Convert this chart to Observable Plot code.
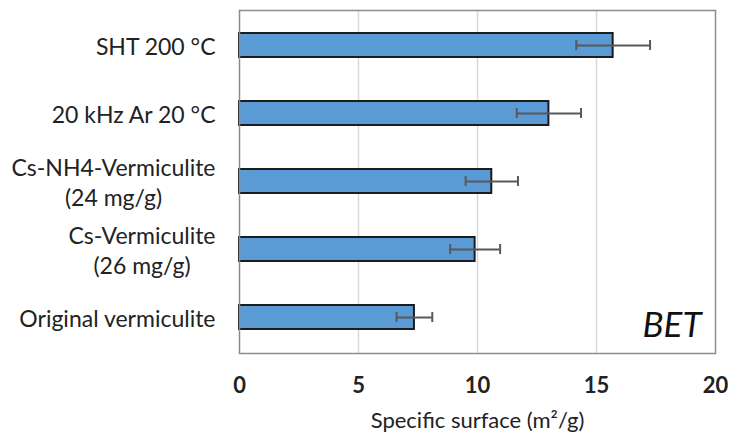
<!DOCTYPE html>
<html>
<head>
<meta charset="utf-8">
<script src="https://cdn.jsdelivr.net/npm/d3@7"></script>
<script src="https://cdn.jsdelivr.net/npm/@observablehq/plot@0.6"></script>
<style>
  html, body { margin: 0; padding: 0; background: #fff; }
  #chart svg { font-family: Lato, "Open Sans", sans-serif; }
</style>
</head>
<body>
<div id="chart"></div>
<script>
const categories = ["SHT 200 °C", "20 kHz Ar 20 °C", "Cs-NH4-Vermiculite\n(24 mg/g)", "Cs-Vermiculite\n(26 mg/g)", "Original vermiculite"];
const values = [15.7, 13.0, 10.6, 9.9, 7.35];
const errors = [1.55, 1.35, 1.1, 1.05, 0.75];
const xTicks = [0, 5, 10, 15, 20];
const xLabel = "Specific surface (m²/g)";
const annotation = ["BET"];

const data = categories.map((c, i) => ({cat: c, v: values[i], lo: values[i] - errors[i], hi: values[i] + errors[i]}));

const plot = Plot.plot({
  width: 730,
  height: 434,
  marginLeft: 239,
  marginRight: 15,
  marginTop: 10,
  marginBottom: 81,
  style: {fontFamily: "Lato, 'Open Sans', sans-serif", color: "#222", background: "#fff"},
  x: {domain: [0, 20]},
  y: {domain: categories, paddingInner: 0.64, paddingOuter: 0.32},
  marks: [
    Plot.gridX({ticks: [5, 10, 15], stroke: "#d9d9d9", strokeOpacity: 1, strokeWidth: 1.5}),
    Plot.barX(data, {x: "v", y: "cat", fill: "#5b9bd5", stroke: "#1c1c1c", strokeWidth: 2}),
    Plot.ruleY(data, {y: "cat", x1: "lo", x2: "hi", stroke: "#595959", strokeWidth: 2}),
    Plot.tickX(data, {x: "lo", y: "cat", stroke: "#595959", strokeWidth: 2, insetTop: 7, insetBottom: 7}),
    Plot.tickX(data, {x: "hi", y: "cat", stroke: "#595959", strokeWidth: 2, insetTop: 7, insetBottom: 7}),
    Plot.frame({stroke: "#8c8c8c", strokeWidth: 1.5}),
    Plot.axisY({tickSize: 0, tickPadding: 24, fontSize: 23, lineHeight: 1.32, label: null, fill: "#222"}),
    Plot.axisX({ticks: xTicks, tickSize: 0, tickPadding: 24, fontSize: 22, fontWeight: "bold", fill: "#222",
      label: xLabel, labelAnchor: "center", labelArrow: "none", labelOffset: 74}),
    Plot.text(annotation, {text: d => d, frameAnchor: "bottom-right", dx: -14, dy: -17, fontSize: 35, fontStyle: "italic", textAnchor: "end", lineAnchor: "bottom", fill: "#111"})
  ]
});

document.getElementById("chart").appendChild(plot);

// axis label font
plot.querySelectorAll("[aria-label='x-axis label'] text").forEach(t => {
  t.setAttribute("font-size", "22"); t.style.fontSize = "22px"; t.style.fontWeight = "normal"; t.setAttribute("font-weight", "normal");
});

// center multi-line y tick labels within their right-aligned block
plot.querySelectorAll("[aria-label='y-axis tick label'] text").forEach(t => {
  const spans = t.querySelectorAll("tspan");
  if (spans.length > 1) {
    let maxW = 0;
    spans.forEach(s => { maxW = Math.max(maxW, s.getComputedTextLength()); });
    t.setAttribute("text-anchor", "middle");
    spans.forEach(s => s.setAttribute("x", -maxW / 2));
  }
});
</script>
</body>
</html>
